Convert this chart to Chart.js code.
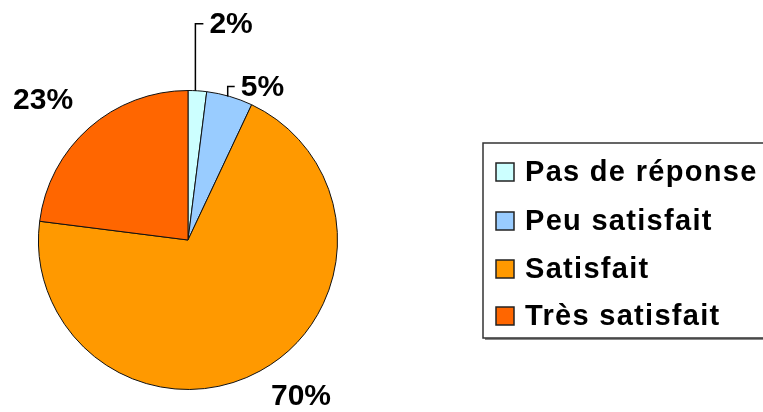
<!DOCTYPE html>
<html>
<head>
<meta charset="utf-8">
<script src="https://cdn.jsdelivr.net/npm/chart.js@4.4.0/dist/chart.umd.min.js"></script>
<style>
  html, body { margin: 0; padding: 0; background: #fff; }
  #wrap { width: 763px; height: 412px; position: relative; }
</style>
</head>
<body>
<div id="wrap"><canvas id="pie" width="763" height="412"></canvas></div>
<script>
// Data
const categories = ['Pas de réponse', 'Peu satisfait', 'Satisfait', 'Très satisfait'];
const percents = [2, 5, 70, 23];
const valueLabels = ['2%', '5%', '70%', '23%'];

const sliceColors = ['#CCFFFF', '#99CCFF', '#FF9900', '#FF6600'];

// label placement relative to the slice's outer edge point (style only)
// leader: [rise, run] for slices that use a callout line
const labelStyle = [
  { leader: [67, 8] },
  { leader: [10, 7] },
  { offset: [41, 26] },
  { offset: [-46, -27] }
];

const FONT = 'bold 30px "Liberation Sans", Arial, sans-serif';
const LEGEND_FONT = 'bold 29px "Liberation Sans", Arial, sans-serif';

// Draws percentage labels (with callouts for thin slices) and the boxed legend
const labelsPlugin = {
  id: 'pieLabels',
  afterDraw(chart) {
    const ctx = chart.ctx;
    const meta = chart.getDatasetMeta(0);
    ctx.save();
    ctx.font = FONT;
    ctx.fillStyle = '#000';
    ctx.textBaseline = 'middle';

    meta.data.forEach((arc, i) => {
      const p = arc.getProps(['x', 'y', 'startAngle', 'endAngle', 'outerRadius']);
      const mid = (p.startAngle + p.endAngle) / 2;
      const ex = p.x + Math.cos(mid) * p.outerRadius;
      const ey = p.y + Math.sin(mid) * p.outerRadius;
      const st = labelStyle[i];
      if (st.leader) {
        const topY = ey - st.leader[0];
        ctx.strokeStyle = '#000';
        ctx.lineWidth = 1.5;
        ctx.beginPath();
        ctx.moveTo(ex - 2, ey);
        ctx.lineTo(ex - 2, topY);
        ctx.lineTo(ex - 2 + st.leader[1], topY);
        ctx.stroke();
        ctx.textAlign = 'left';
        ctx.fillText(valueLabels[i], ex + st.leader[1] + 4, topY + 1);
      } else {
        ctx.textAlign = 'center';
        ctx.fillText(valueLabels[i], ex + st.offset[0], ey + st.offset[1]);
      }
    });

    // legend box
    const bx = 483, by = 143, bh = 195;
    ctx.fillStyle = '#888';
    ctx.fillRect(bx + 2, by + bh, 800, 2);
    ctx.strokeStyle = '#333';
    ctx.lineWidth = 1.5;
    ctx.strokeRect(bx, by, 800, bh);

    const rowY = [172, 221, 269, 316];
    ctx.textAlign = 'left';
    ctx.font = LEGEND_FONT;
    if ('letterSpacing' in ctx) ctx.letterSpacing = '1.3px';
    categories.forEach((name, i) => {
      ctx.fillStyle = sliceColors[i];
      ctx.fillRect(496, rowY[i] - 9, 18, 18);
      ctx.strokeStyle = '#222';
      ctx.lineWidth = 1.5;
      ctx.strokeRect(496, rowY[i] - 9, 18, 18);
      ctx.fillStyle = '#000';
      ctx.fillText(name, 525, rowY[i] + 1);
    });
    ctx.restore();
  }
};

new Chart(document.getElementById('pie'), {
  type: 'pie',
  data: {
    labels: categories,
    datasets: [{
      data: percents,
      backgroundColor: sliceColors,
      borderColor: '#111',
      borderWidth: 1
    }]
  },
  options: {
    responsive: false,
    animation: false,
    layout: { padding: { left: 38, top: 90, right: 425, bottom: 22 } },
    plugins: {
      legend: { display: false },
      tooltip: { enabled: false }
    }
  },
  plugins: [labelsPlugin]
});
</script>
</body>
</html>
